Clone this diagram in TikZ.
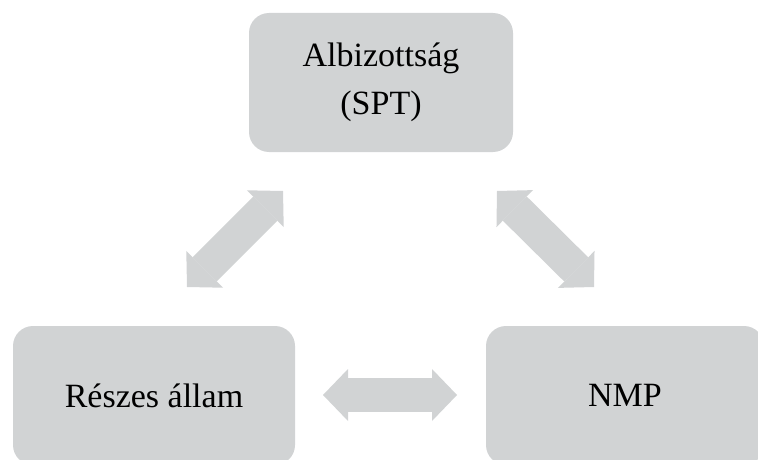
\documentclass[tikz,border=0pt]{standalone}
\usepackage{fontspec}
\setmainfont{Liberation Serif}
\usetikzlibrary{arrows.meta}

\definecolor{boxgray}{RGB}{209,211,212}

\tikzset{
	box/.style={fill=boxgray, rounded corners=20pt, minimum height=139pt,
		align=center, font=\fontsize{34}{48}\selectfont},
	link/.style={draw=boxgray, line width=34pt, {Triangle[length=25pt, width=52pt, line width=0pt]}-{Triangle[length=25pt, width=52pt, line width=0pt]}}
}

\begin{document}
\begin{tikzpicture}[x=1pt, y=-1pt]
	\useasboundingbox (0,0) rectangle (758,460);
	\clip (0,0) rectangle (758,460);
	% boxes
	\node[box, minimum width=264pt] (spt) at (381,82.5) {Albizottság\\(SPT)};
	\node[box, minimum width=282pt] (allam) at (154,395.5) {Részes állam};
	\node[box, minimum width=278pt] (nmp) at (625,395.5) {NMP};
	% arrow ends
	\coordinate (l1) at (187,287);
	\coordinate (l2) at (283,191);
	\coordinate (r1) at (497,191);
	\coordinate (r2) at (594,287);
	\coordinate (h1) at (323,395);
	\coordinate (h2) at (457,395);
	\draw[link] (l1) -- (l2);
	\draw[link] (r1) -- (r2);
	\draw[link] (h1) -- (h2);
\end{tikzpicture}
\end{document}
